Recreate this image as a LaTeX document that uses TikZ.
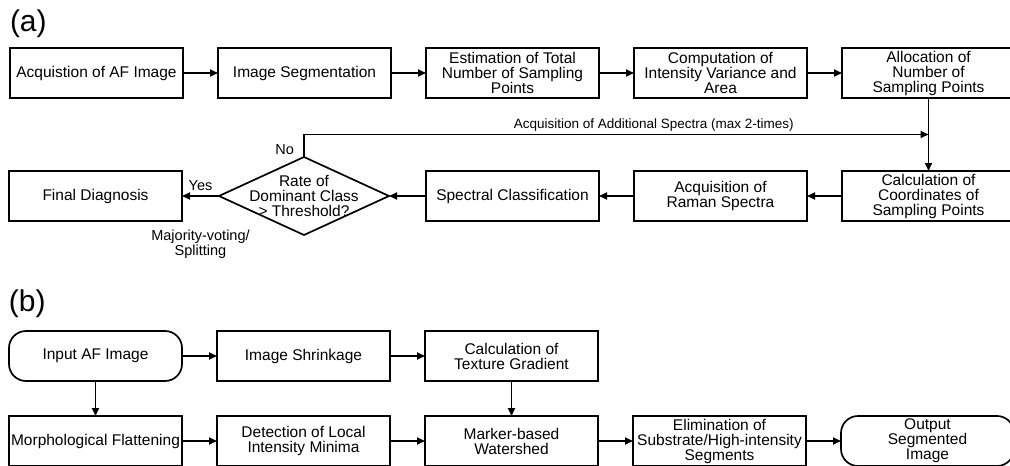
\documentclass[tikz,border=0pt]{standalone}
\usepackage{fontspec}
\setmainfont{Liberation Sans}
\usepackage{tikz}
\usetikzlibrary{arrows.meta,positioning,shapes.geometric,calc}

\begin{document}
\begin{tikzpicture}[x=1pt,y=1pt,node distance=35pt,line width=1.7pt,>={Triangle[length=8pt,width=7pt]},every node/.style={font=\fontsize{15.5}{15}\selectfont,inner sep=0pt,outer sep=0pt},n/.style={draw,align=center,minimum width=173pt,minimum height=50pt},r/.style={n,rounded corners=17pt},d/.style={draw,diamond,minimum width=170pt,minimum height=78pt},t/.style={font=\fontsize{14.5}{13}\selectfont,align=center},lbl/.style={font=\fontsize{30}{30}\selectfont}]
\useasboundingbox (0,0) rectangle (1010,-466);
\node[n,anchor=north west] (acq) at (10,-48) {Acquistion of AF Image};
\node[n,right=of acq] (seg) {Image Segmentation};
\node[n,right=of seg] (est) {Estimation of Total\\Number of Sampling\\Points};
\node[n,right=of est] (var) {Computation of\\Intensity Variance and\\Area};
\node[n,right=of var] (alloc) {Allocation of\\Number of\\Sampling Points};
\node[n,below=73pt of alloc] (coord) {Calculation of\\Coordinates of\\Sampling Points};
\node[n,left=of coord] (raman) {Acquisition of\\Raman Spectra};
\node[n,left=of raman] (cls) {Spectral Classification};
\node[d,left=37pt of cls,label={[align=center]center:Rate of\\Dominant Class\\> Threshold?}] (dec) {};
\node[n,left=37pt of dec] (final) {Final Diagnosis};
\node[lbl,above right=10pt and 0pt of acq.north west] (la) {(a)};
\node[t,above left=2pt and 10pt of dec.north] (no) {No};
\coordinate (j) at ($(alloc.south)!.5!(coord.north)$);
\draw[->] (acq)--(seg);\draw[->] (seg)--(est);\draw[->] (est)--(var);\draw[->] (var)--(alloc);
\draw[->] (alloc)--(coord);\draw[->] (coord)--(raman);\draw[->] (raman)--(cls);\draw[->] (cls)--(dec);
\draw[->] (dec)--node[t,above=5pt]{Yes} node[t,below=34pt]{Majority-voting/\\Splitting} (final);
\draw[->] (dec.north) |- node[pos=.78,above=3pt,font=\fontsize{13.5}{13}\selectfont]{Acquisition of Additional Spectra (max 2-times)} (j);
\node[r,below=110pt of final] (in) {Input AF Image};
\node[n,right=of in] (shr) {Image Shrinkage};
\node[n,right=of shr] (tex) {Calculation of\\Texture Gradient};
\node[n,below=of in] (flat) {Morphological Flattening};
\node[n,right=of flat] (mini) {Detection of Local\\Intensity Minima};
\node[n,right=of mini] (ws) {Marker-based\\Watershed};
\node[n,right=of ws] (elim) {Elimination of\\Substrate/High-intensity\\Segments};
\node[r,right=of elim] (out) {Output\\Segmented\\Image};
\node[lbl,above right=13pt and 0pt of in.north west] (lb) {(b)};
\draw[->] (in)--(shr);\draw[->] (shr)--(tex);\draw[->] (in)--(flat);\draw[->] (tex)--(ws);
\draw[->] (flat)--(mini);\draw[->] (mini)--(ws);\draw[->] (ws)--(elim);\draw[->] (elim)--(out);
\end{tikzpicture}
\end{document}
